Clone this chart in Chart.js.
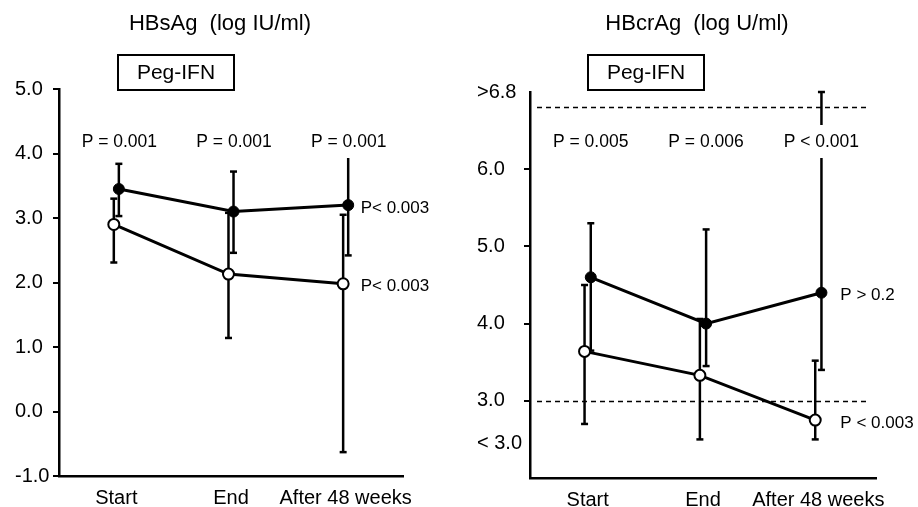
<!DOCTYPE html>
<html>
<head>
<meta charset="utf-8">
<script src="https://cdn.jsdelivr.net/npm/chart.js@4.4.1/dist/chart.umd.min.js"></script>
<style>
  html, body { margin: 0; padding: 0; background: #fff; }
  #wrap { position: relative; width: 918px; height: 507px; }
  .panel { position: absolute; top: 0; width: 459px; height: 507px; }
  #left { left: 0; }
  #right { left: 459px; }
</style>
</head>
<body>
<div id="wrap">
  <div class="panel" id="left"><canvas id="hbs" width="459" height="507"></canvas></div>
  <div class="panel" id="right"><canvas id="hbc" width="459" height="507"></canvas></div>
</div>
<script>
const categories = ["Start", "End", "After 48 weeks"];

// HBsAg (log IU/ml)
const hbsFilled = [3.45, 3.1, 3.2];
const hbsFilledHi = [3.84, 3.72, 3.95];
const hbsFilledLo = [3.03, 2.46, 2.42];
const hbsOpen = [2.9, 2.13, 1.98];
const hbsOpenHi = [3.3, 3.08, 3.05];
const hbsOpenLo = [2.31, 1.14, -0.63];
const hbsTopP = ["P = 0.001", "P = 0.001", "P = 0.001"];
const hbsSideP = ["P< 0.003", "P< 0.003"];

// HBcrAg (log U/ml)
const hbcFilled = [4.6, 4.0, 4.4];
const hbcFilledHi = [5.3, 5.22, 7.0];
const hbcFilledLo = [3.65, 3.45, 3.4];
const hbcOpen = [3.64, 3.33, 2.75];
const hbcOpenHi = [4.5, 4.06, 3.52];
const hbcOpenLo = [2.7, 2.5, 2.5];
const hbcTopP = ["P = 0.005", "P = 0.006", "P < 0.001"];
const hbcSideP = ["P > 0.2", "P < 0.003"];
const hbcTickValues = [2.45, 3, 4, 5, 6, 7];
const hbcTickLabels = ["< 3.0", "3.0", "4.0", "5.0", "6.0", ">6.8"];
const hbcLimits = [6.8, 3.0];

const FONT = "'Liberation Sans', Arial, sans-serif";

function toPoints(values, shift) {
  return values.map((v, i) => ({ x: i + shift, y: v }));
}

// error bars, dashed limits and all the panel texts
const panelDecor = {
  id: "panelDecor",
  beforeDatasetsDraw(chart, args, o) {
    const ctx = chart.ctx;
    const x = chart.scales.x;
    const y = chart.scales.y;
    ctx.save();
    ctx.strokeStyle = "#000";

    if (o.limits) {
      ctx.lineWidth = 1.5;
      ctx.setLineDash([5, 4]);
      o.limits.forEach((v) => {
        const py = Math.round(y.getPixelForValue(v)) + 0.5;
        ctx.beginPath();
        ctx.moveTo(chart.chartArea.left + 7, py);
        ctx.lineTo(chart.chartArea.right - 10, py);
        ctx.stroke();
      });
      ctx.setLineDash([]);
    }

    ctx.lineWidth = 2.5;
    chart.data.datasets.forEach((ds) => {
      ds.data.forEach((p, i) => {
        const px = x.getPixelForValue(p.x);
        const ends = [ds.errHi[i], ds.errLo[i]];
        ends.forEach((e) => {
          const py = y.getPixelForValue(e);
          ctx.beginPath();
          ctx.moveTo(px, y.getPixelForValue(p.y));
          ctx.lineTo(px, py);
          ctx.stroke();
          ctx.beginPath();
          ctx.moveTo(px - 3.5, py);
          ctx.lineTo(px + 3.5, py);
          ctx.stroke();
        });
      });
    });
    ctx.restore();
  },
  afterDatasetsDraw(chart, args, o) {
    const ctx = chart.ctx;
    const x = chart.scales.x;
    const y = chart.scales.y;
    ctx.save();
    ctx.fillStyle = "#000";
    ctx.textBaseline = "middle";

    ctx.font = "22px " + FONT;
    ctx.textAlign = "center";
    ctx.fillText(o.title, o.titleX, 24);

    // treatment box
    ctx.lineWidth = 2;
    ctx.strokeStyle = "#000";
    ctx.strokeRect(o.boxX, 55, 116, 35);
    ctx.font = "21px " + FONT;
    ctx.fillText("Peg-IFN", o.boxX + 58, 73);

    // p values between the groups at each time point
    ctx.font = "17.5px " + FONT;
    o.topP.forEach((t, i) => {
      const px = x.getPixelForValue(i) + 3;
      const w = ctx.measureText(t).width;
      ctx.fillStyle = "#fff";
      ctx.fillRect(px - w / 2 - 2, 125, w + 4, 33);
      ctx.fillStyle = "#000";
      ctx.fillText(t, px, 142);
    });

    // p values over time for each group
    ctx.font = "17px " + FONT;
    ctx.textAlign = "left";
    const last = categories.length - 1;
    chart.data.datasets.forEach((ds, k) => {
      const py = y.getPixelForValue(ds.data[last].y) + 3;
      ctx.fillText(o.sideP[k], x.getPixelForValue(last) + o.sideDx, py);
    });
    ctx.restore();
  }
};

function seriesSets(filled, filledHi, filledLo, open, openHi, openLo, shift) {
  return [
    {
      data: toPoints(filled, shift),
      errHi: filledHi,
      errLo: filledLo,
      borderColor: "#000",
      backgroundColor: "#000",
      borderWidth: 3,
      pointRadius: 5.5,
      pointBorderWidth: 1,
      pointBackgroundColor: "#000",
      pointBorderColor: "#000"
    },
    {
      data: toPoints(open, -shift),
      errHi: openHi,
      errLo: openLo,
      borderColor: "#000",
      backgroundColor: "#fff",
      borderWidth: 3,
      pointRadius: 5.5,
      pointBorderWidth: 2,
      pointBackgroundColor: "#fff",
      pointBorderColor: "#000"
    }
  ];
}

function makeChart(id, cfg) {
  return new Chart(document.getElementById(id), {
    type: "line",
    data: { datasets: cfg.datasets },
    plugins: [panelDecor],
    options: {
      responsive: false,
      animation: false,
      events: [],
      layout: { padding: cfg.padding },
      plugins: {
        legend: { display: false },
        tooltip: { enabled: false },
        panelDecor: cfg.decor
      },
      scales: {
        x: {
          type: "linear",
          min: -0.5,
          max: 2.5,
          afterBuildTicks: (s) => {
            s.ticks = categories.map((c, i) => ({ value: i }));
          },
          afterFit: (s) => {
            s.height = cfg.xHeight;
            s.paddingLeft = 0;
            s.paddingRight = 0;
          },
          grid: { display: false },
          border: { display: true, color: "#000", width: 2.5 },
          ticks: {
            padding: 2,
            maxRotation: 0,
            autoSkip: false,
            color: "#000",
            font: { family: FONT, size: 20 },
            callback: (v) => categories[v]
          }
        },
        y: {
          min: cfg.yMin,
          max: cfg.yMax,
          afterBuildTicks: (s) => {
            s.ticks = cfg.tickValues.map((v) => ({ value: v }));
          },
          afterFit: (s) => {
            s.width = cfg.yWidth;
            s.paddingTop = 0;
            s.paddingBottom = 0;
          },
          grid: {
            drawOnChartArea: false,
            drawTicks: true,
            tickLength: 6,
            lineWidth: 2,
            color: "#000",
            tickColor: (c) => (cfg.noMark.includes(c.tick && c.tick.value) ? "rgba(0,0,0,0)" : "#000")
          },
          border: { display: true, color: "#000", width: 2.5 },
          ticks: {
            crossAlign: "far",
            color: "#000",
            font: { family: FONT, size: 20 },
            callback: cfg.tickLabel
          }
        }
      }
    }
  });
}

const hbsTicks = [-1, 0, 1, 2, 3, 4, 5];

makeChart("hbs", {
  datasets: seriesSets(hbsFilled, hbsFilledHi, hbsFilledLo, hbsOpen, hbsOpenHi, hbsOpenLo, 0.022),
  padding: { left: 15, top: 89, right: 56, bottom: 0 },
  xHeight: 31,
  yWidth: 44,
  yMin: -1,
  yMax: 5,
  tickValues: hbsTicks,
  noMark: [],
  tickLabel: (v) => v.toFixed(1),
  decor: { title: "HBsAg  (log IU/ml)", titleX: 220, boxX: 118, topP: hbsTopP, sideP: hbsSideP, sideDx: 15 }
});

makeChart("hbc", {
  datasets: seriesSets(hbcFilled, hbcFilledHi, hbcFilledLo, hbcOpen, hbcOpenHi, hbcOpenLo, 0.027),
  padding: { left: 18, top: 92, right: 42, bottom: 0 },
  xHeight: 29,
  yWidth: 53,
  yMin: 2,
  yMax: 7,
  tickValues: hbcTickValues,
  noMark: [2.45, 7],
  tickLabel: (v) => hbcTickLabels[hbcTickValues.indexOf(v)],
  decor: { title: "HBcrAg  (log U/ml)", titleX: 238, boxX: 129, topP: hbcTopP, sideP: hbcSideP, sideDx: 22, limits: hbcLimits }
});
</script>
</body>
</html>
